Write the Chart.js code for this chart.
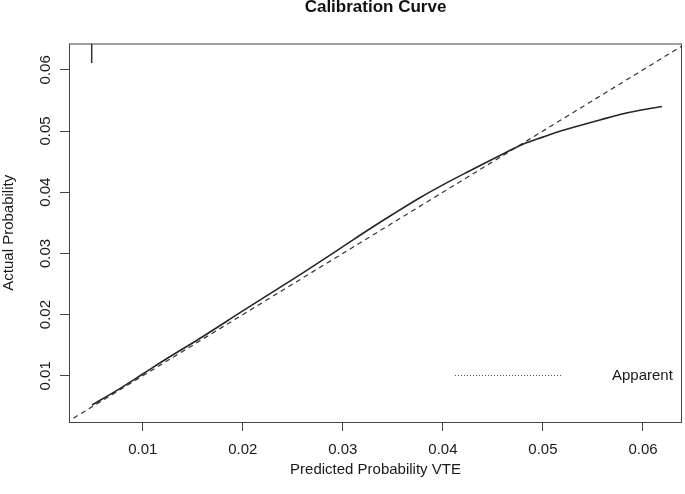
<!DOCTYPE html>
<html>
<head>
<meta charset="utf-8">
<script src="https://cdn.jsdelivr.net/npm/chart.js@4.4.1/dist/chart.umd.min.js"></script>
<style>
html, body { margin: 0; padding: 0; background: #fff; }
#wrap { width: 685px; height: 494px; }
</style>
</head>
<body>
<div id="wrap"><canvas id="myChart" width="685" height="494"></canvas></div>
<script>
// calibration curve
const predicted = [0.00493, 0.0075, 0.0100, 0.0125, 0.0157, 0.0200, 0.0257, 0.0300, 0.0324, 0.0350, 0.0377, 0.0400, 0.0427, 0.0457, 0.0481, 0.0500, 0.0517, 0.0537, 0.0557, 0.0577, 0.0597, 0.0619];
const apparent  = [0.00522, 0.0077, 0.0103, 0.0129, 0.0161, 0.0206, 0.0265, 0.0311, 0.0337, 0.0364, 0.0391, 0.0412, 0.0435, 0.0460, 0.0479, 0.0490, 0.04995, 0.0509, 0.0518, 0.0527, 0.0534, 0.0540];
const idealLine = [0, 0.07];
const spikeX = [0.0049, 0.0049];
const spikeY = [0.0643, 0.0611];
const xTicks = [0.01, 0.02, 0.03, 0.04, 0.05, 0.06];
const yTicks = [0.01, 0.02, 0.03, 0.04, 0.05, 0.06];
const xRange = [0.00263, 0.0639];
const yRange = [0.00245, 0.0643];

Chart.defaults.font.family = "'Liberation Sans', Arial, sans-serif";
Chart.defaults.color = '#1a1a1a';

const ink = '#333';

// box around the plot + the legend in the lower right
const framePlugin = {
    id: 'frame',
    afterDraw(chart) {
        const {ctx, chartArea: a} = chart;
        ctx.save();
        ctx.strokeStyle = '#444';
        ctx.lineWidth = 1;
        ctx.strokeRect(a.left + 0.5, a.top + 0.5, a.right - a.left - 1, a.bottom - a.top);

        const y = a.bottom - 47;
        ctx.setLineDash([1, 2]);
        ctx.strokeStyle = '#555';
        ctx.beginPath();
        ctx.moveTo(a.left + 386, y + 0.5);
        ctx.lineTo(a.left + 492, y + 0.5);
        ctx.stroke();
        ctx.setLineDash([]);
        ctx.fillStyle = '#1a1a1a';
        ctx.font = "15px 'Liberation Sans', Arial, sans-serif";
        ctx.textBaseline = 'middle';
        ctx.textAlign = 'left';
        ctx.fillText(chart.data.datasets[0].label, a.left + 543, y + 1);
        ctx.restore();
    }
};

const data = {
    datasets: [{
        label: 'Apparent',
        data: predicted.map((x, i) => ({x: x, y: apparent[i]})),
        borderColor: '#262626',
        borderWidth: 1.6,
        cubicInterpolationMode: 'monotone',
        pointRadius: 0
    }, {
        label: 'Ideal',
        data: idealLine.map(v => ({x: v, y: v})),
        borderColor: ink,
        borderWidth: 1.2,
        borderDash: [5, 4],
        pointRadius: 0
    }, {
        label: 'Predicted',
        data: spikeX.map((x, i) => ({x: x, y: spikeY[i]})),
        borderColor: ink,
        borderWidth: 1.5,
        pointRadius: 0
    }]
};

const config = {
    type: 'line',
    data: data,
    options: {
        responsive: false,
        animation: false,
        devicePixelRatio: 1,
        layout: { padding: { left: 0, right: 3, top: 0, bottom: 0 } },
        plugins: {
            legend: { display: false },
            tooltip: { enabled: false },
            title: {
                display: true,
                text: 'Calibration Curve',
                fullSize: false,
                color: '#111',
                font: { size: 17, weight: 'bold', lineHeight: 0.8 },
                padding: { top: 1, bottom: 28.9 }
            }
        },
        scales: {
            x: {
                type: 'linear',
                min: xRange[0],
                max: xRange[1],
                afterBuildTicks: s => { s.ticks = xTicks.map(v => ({value: v})); },
                afterFit: s => { s.height = 72; },
                border: { display: false },
                grid: { drawOnChartArea: false, drawTicks: true, tickLength: 9, color: '#444' },
                ticks: { font: { size: 15 }, padding: 10, maxRotation: 0, callback: v => v.toFixed(2) },
                title: { display: true, text: 'Predicted Probability VTE', font: { size: 15 }, padding: { top: 0, bottom: 15 } }
            },
            y: {
                type: 'linear',
                min: yRange[0],
                max: yRange[1],
                afterBuildTicks: s => { s.ticks = yTicks.map(v => ({value: v})); },
                afterFit: s => { s.width = 69; },
                border: { display: false },
                grid: { drawOnChartArea: false, drawTicks: true, tickLength: 9, color: '#444' },
                ticks: { font: { size: 15 }, padding: 0, minRotation: 90, maxRotation: 90, crossAlign: 'center', callback: v => v.toFixed(2) },
                title: { display: true, text: 'Actual Probability', font: { size: 15 }, padding: { top: 0, bottom: 0 } }
            }
        }
    },
    plugins: [framePlugin]
};

const myChart = new Chart(document.getElementById('myChart'), config);
</script>
</body>
</html>
